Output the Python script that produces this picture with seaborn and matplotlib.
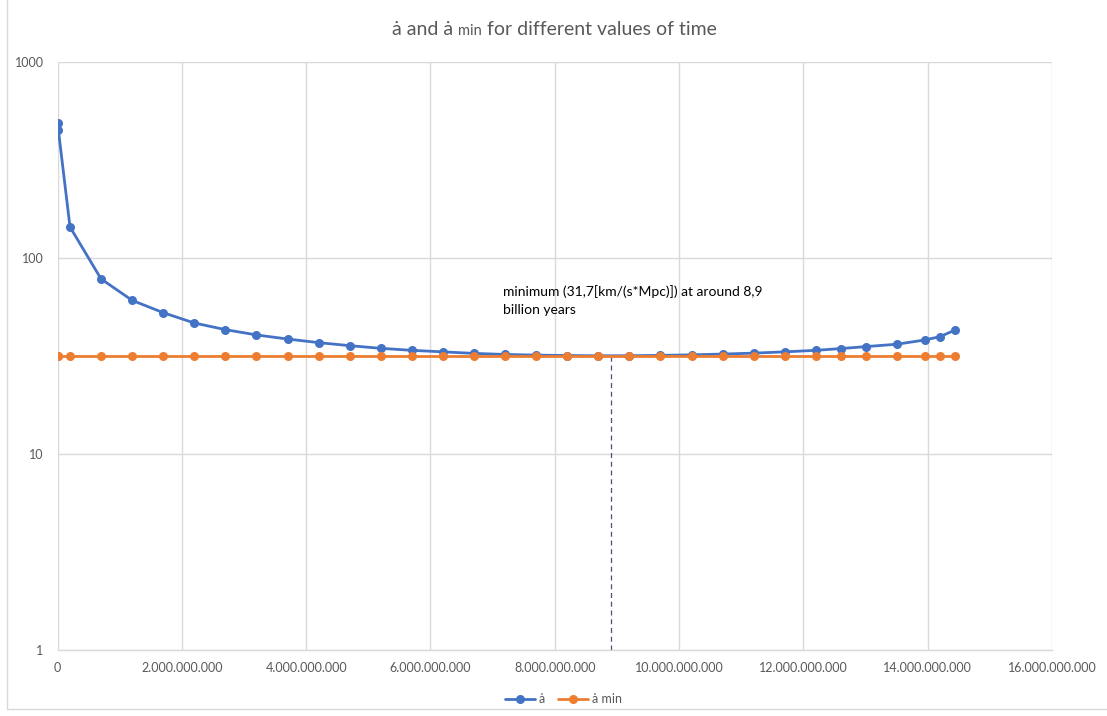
import matplotlib
matplotlib.use("Agg")
import matplotlib.pyplot as plt
import matplotlib.ticker as mticker
from matplotlib.lines import Line2D
from matplotlib.patches import Rectangle
import seaborn as sns
import pandas as pd

# time in years
time_years = [1.0e7, 1.3e7, 2.0e8, 7.0e8, 1.2e9, 1.7e9, 2.2e9, 2.7e9, 3.2e9, 3.7e9,
              4.2e9, 4.7e9, 5.2e9, 5.7e9, 6.2e9, 6.7e9, 7.2e9, 7.7e9, 8.2e9, 8.7e9,
              9.2e9, 9.7e9, 10.2e9, 10.7e9, 11.2e9, 11.7e9, 12.2e9, 12.6e9, 13.0e9,
              13.5e9, 13.96e9, 14.2e9, 14.44e9]
# expansion rate a-dot [km/(s*Mpc)]
a_dot = [490, 450, 144, 78.2, 60.8, 52.6, 46.6, 43.1, 40.5, 38.6,
         37.0, 35.7, 34.6, 33.8, 33.2, 32.6, 32.2, 31.95, 31.8, 31.7,
         31.72, 31.85, 32.05, 32.35, 32.7, 33.2, 33.8, 34.5, 35.3,
         36.3, 38.2, 39.7, 42.9]
a_dot_min = 31.7
t_min = 8.9e9

series_names = ["ȧ", "ȧ min"]
colors = ["#4472C4", "#ED7D31"]

df = pd.DataFrame({
    "t": time_years * 2,
    "v": a_dot + [a_dot_min] * len(time_years),
    "s": [series_names[0]] * len(time_years) + [series_names[1]] * len(time_years),
})

sns.set_theme(style="white")
plt.rcParams["font.family"] = ["Lato", "DejaVu Sans"]
text_col = "#595959"
grid_col = "#D9D9D9"

fig = plt.figure(figsize=(11.07, 7.16), dpi=100)
ax = fig.add_axes([0.052, 0.0922, 0.8983, 0.8212])

sns.lineplot(data=df, x="t", y="v", hue="s", palette=colors, marker="o",
             markersize=6.5, markeredgewidth=0, linewidth=2.0, ax=ax,
             legend=False, zorder=3)

ax.set_yscale("log")
ax.set_ylim(1, 1000)
ax.set_xlim(0, 16e9)
ax.yaxis.set_major_locator(mticker.FixedLocator([1, 10, 100, 1000]))
ax.yaxis.set_minor_locator(mticker.NullLocator())
ax.yaxis.set_major_formatter(mticker.FuncFormatter(lambda v, p: f"{int(round(v))}"))
ax.xaxis.set_major_locator(mticker.MultipleLocator(2e9))
ax.xaxis.set_major_formatter(
    mticker.FuncFormatter(lambda v, p: f"{int(round(v)):,}".replace(",", ".")))

ax.grid(True, color=grid_col, linewidth=1.0)
ax.set_axisbelow(True)
for side in ["top", "right", "left"]:
    ax.spines[side].set_visible(False)
ax.spines["bottom"].set_color(grid_col)
ax.spines["bottom"].set_linewidth(1.0)
ax.tick_params(axis="both", length=0, labelsize=9, colors=text_col)
ax.tick_params(axis="x", pad=9)
ax.tick_params(axis="y", pad=10)
ax.set_xlabel("")
ax.set_ylabel("")

# dashed marker of the minimum
ax.vlines(t_min, 1, a_dot_min, colors="#44546A", linestyles=(0, (4, 3)),
          linewidth=0.9, zorder=2)
ax.text(7.16e9, 73, "minimum (31,7[km/(s*Mpc)]) at around 8,9\nbillion years",
        fontsize=10, color="black", va="top", ha="left", linespacing=1.65)

# title with the smaller "min"
t1 = fig.text(0.354, 0.947, "ȧ and ȧ ", fontsize=14, color=text_col,
              ha="left", va="bottom")
t2 = fig.text(0, 0, "min", fontsize=10.5, color=text_col, ha="left", va="bottom")
t3 = fig.text(0, 0, " for different values of time", fontsize=14, color=text_col,
              ha="left", va="bottom")
fig.canvas.draw()
r = fig.canvas.get_renderer()
bb1 = t1.get_window_extent(r).transformed(fig.transFigure.inverted())
t2.set_position((bb1.x1, bb1.y0))
fig.canvas.draw()
bb2 = t2.get_window_extent(r).transformed(fig.transFigure.inverted())
t3.set_position((bb2.x1, bb1.y0))

handles = [Line2D([], [], color=c, marker="o", markersize=6.5, markeredgewidth=0,
                  linewidth=2.0) for c in colors]
leg = fig.legend(handles, series_names, loc="center", bbox_to_anchor=(0.509, 0.0237),
                 ncol=2, frameon=False, fontsize=9, handlelength=2.4,
                 columnspacing=1.0, handletextpad=0.3)
for txt in leg.get_texts():
    txt.set_color(text_col)

# chart frame
fig.patches.append(Rectangle((7 / 1107, 7 / 716), 1.2, 1.2,
                             transform=fig.transFigure, fill=False,
                             edgecolor=grid_col, linewidth=1.0))

fig.savefig("out.png", dpi=100)
